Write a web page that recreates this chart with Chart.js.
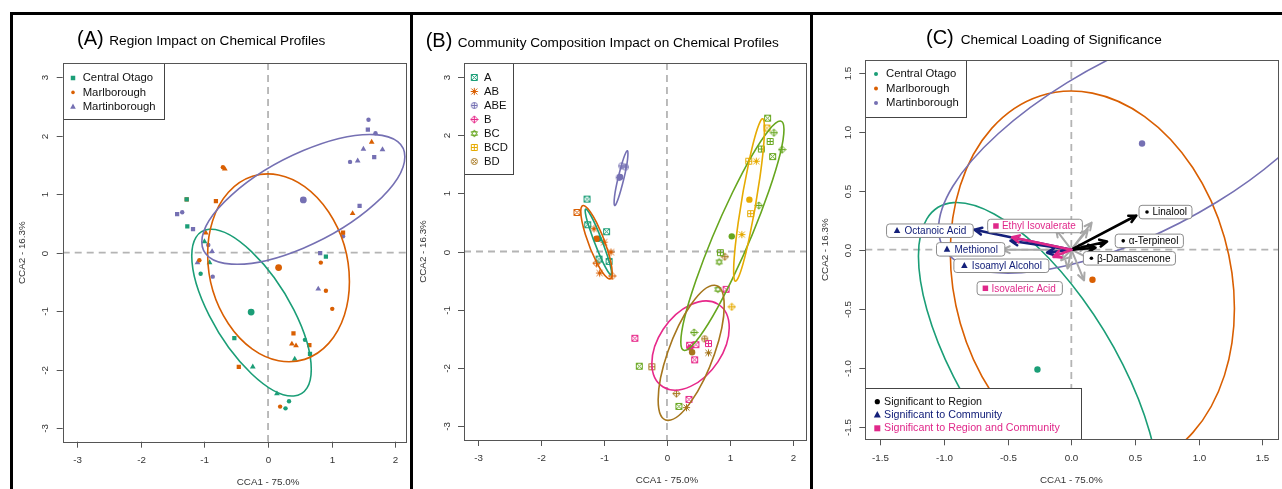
<!DOCTYPE html>
<html>
<head>
<meta charset="utf-8">
<title>CCA chemical profiles</title>
<script src="https://cdn.jsdelivr.net/npm/chart.js@4.4.1/dist/chart.umd.min.js"></script>
<style>
  body { margin: 0; background: #fff; }
  #page { position: relative; width: 1282px; height: 489px; overflow: hidden; }
  .panel { position: absolute; top: 0; height: 489px; }
  .bar { position: absolute; background: #000; }
</style>
</head>
<body>
<div id="page">
  <div class="panel" style="left:0;width:410px"><canvas id="chartA"></canvas></div>
  <div class="panel" style="left:410px;width:400px"><canvas id="chartB"></canvas></div>
  <div class="panel" style="left:810px;width:472px"><canvas id="chartC"></canvas></div>
  <div class="bar" style="left:10px;top:12px;width:1272px;height:3px"></div>
  <div class="bar" style="left:10px;top:12px;width:3px;height:477px"></div>
  <div class="bar" style="left:410px;top:12px;width:3px;height:477px"></div>
  <div class="bar" style="left:810px;top:12px;width:3px;height:477px"></div>
</div>
<script>
var FONT = '"Liberation Sans", Arial, Helvetica, sans-serif';

// ---------- region data (panels A and C) ----------
var regionNames = ['Central Otago', 'Marlborough', 'Martinborough'];
var regionColors = ['#1b9e77', '#d95f02', '#7570b3'];

var otagoX = [-1.28, -1.27, -1.00, -0.92, -1.06, 0.91, 0.58, 0.66, 0.42, -0.53, -0.24, 0.14, 0.33, 0.275];
var otagoY = [0.91, 0.45, 0.19, -0.17, -0.36, -0.07, -1.49, -1.73, -1.82, -1.46, -1.95, -2.41, -2.54, -2.66];
var otagoShape = ['rect', 'rect', 'triangle', 'triangle', 'circle', 'rect', 'circle', 'rect', 'triangle', 'rect', 'triangle', 'triangle', 'circle', 'circle'];

var marlX = [-0.71, -0.68, -1.28, -0.82, 1.33, 1.18, 1.63, -0.98, -1.08, 0.83, 0.91, 1.01, 0.40, 0.375, 0.44, 0.65, -0.46, 0.19];
var marlY = [1.46, 1.43, 0.91, 0.88, 0.67, 0.34, 1.89, 0.34, -0.13, -0.17, -0.65, -0.96, -1.38, -1.56, -1.59, -1.58, -1.95, -2.63];
var marlShape = ['circle', 'triangle', 'rect', 'rect', 'triangle', 'rect', 'triangle', 'triangle', 'circle', 'circle', 'circle', 'circle', 'rect', 'triangle', 'triangle', 'rect', 'rect', 'circle'];

var martinX = [1.58, 1.57, 1.69, 1.50, 1.80, 1.67, 1.29, 1.41, 1.44, 1.18, 0.82, 0.79, -1.43, -1.35, -1.18, -1.11, -0.88, -0.87, -0.94];
var martinY = [2.27, 2.10, 2.04, 1.77, 1.76, 1.63, 1.55, 1.57, 0.80, 0.28, -0.01, -0.62, 0.66, 0.69, 0.40, -0.17, 0.02, -0.41, 0.13];
var martinShape = ['circle', 'rect', 'circle', 'triangle', 'triangle', 'rect', 'circle', 'triangle', 'rect', 'circle', 'rect', 'triangle', 'rect', 'circle', 'rect', 'triangle', 'triangle', 'circle', 'circle'];

var centroidX = [-0.266, 0.166, 0.555];
var centroidY = [-1.015, -0.255, 0.90];

// ellipses: centre, half width, half height, correlation
var regEllCx = [-0.26, 0.165, 0.555];
var regEllCy = [-1.025, -0.26, 0.91];
var regEllSx = [0.94, 1.115, 1.597];
var regEllSy = [1.425, 1.605, 1.108];
var regEllRho = [-0.681, -0.148, 0.659];

// ---------- community data (panel B) ----------
var commNames = ['A', 'AB', 'ABE', 'B', 'BC', 'BCD', 'BD'];
var commColors = ['#1b9e77', '#d95f02', '#7570b3', '#e7298a', '#66a61e', '#e6ab02', '#a6761d'];
var commLegendShape = ['sqx', 'ast', 'cplus', 'dplus', 'star6', 'sqplus', 'cx'];

var commX = [
  [-1.27, -1.26, -0.96, -1.08, -0.92],
  [-1.43, -1.16, -1.00, -0.89, -1.12, -1.07, -0.87],
  [-0.72, -0.76, -0.66],
  [-0.51, 0.94, 0.36, 0.46, 0.66, 0.44, 0.35],
  [1.60, 1.70, 1.64, 1.50, 1.83, 1.68, 1.46, 0.85, 0.83, 0.81, -0.44, 0.43, 0.19],
  [1.59, 1.30, 1.42, 1.33, 1.19, 1.03],
  [0.92, -0.24, 0.60, 0.66, 0.15, 0.31]
];
var commY = [
  [0.90, 0.46, 0.34, -0.13, -0.17],
  [0.67, 0.39, 0.16, -0.01, -0.20, -0.37, -0.42],
  [1.47, 1.27, 1.45],
  [-1.49, -0.65, -1.61, -1.60, -1.58, -1.86, -2.54],
  [2.29, 2.04, 1.89, 1.76, 1.75, 1.63, 0.79, -0.02, -0.18, -0.65, -1.97, -1.39, -2.66],
  [2.12, 1.55, 1.55, 0.65, 0.29, -0.95],
  [-0.09, -1.98, -1.50, -1.74, -2.44, -2.68]
];
var commShape = [
  ['sqx', 'sqx', 'sqx', 'sqx', 'sqx'],
  ['sqx', 'ast', 'ast', 'ast', 'dplus', 'ast', 'dplus'],
  ['cplus', 'cplus', 'cplus'],
  ['sqx', 'sqx', 'sqx', 'sqx', 'sqplus', 'sqx', 'sqx'],
  ['sqx', 'dplus', 'sqplus', 'sqplus', 'dplus', 'sqx', 'dplus', 'sqplus', 'star6', 'star6', 'sqx', 'dplus', 'sqx'],
  ['sqx', 'sqplus', 'ast', 'sqplus', 'ast', 'dplus'],
  ['dplus', 'sqplus', 'cplus', 'ast', 'dplus', 'ast']
];
var commCx = [-1.09, -1.12, -0.745, 0.37, 1.03, 1.31, 0.40];
var commCy = [0.22, 0.22, 1.28, -1.65, 0.26, 0.89, -1.73];

var commEllCx = [-1.09, -1.12, -0.73, 0.375, 1.04, 1.305, 0.385];
var commEllCy = [0.165, 0.16, 1.26, -1.615, 0.27, 0.885, -1.74];
var commEllSx = [0.21, 0.25, 0.11, 0.615, 0.82, 0.245, 0.525];
var commEllSy = [0.565, 0.63, 0.47, 0.765, 1.97, 1.395, 1.16];
var commEllRho = [-0.95, -0.84, 0.91, 0.40, 0.927, 0.878, 0.695];

// ---------- loadings (panel C) ----------
var chemNames = ['Linalool', '\u03b1-Terpineol', '\u03b2-Damascenone', 'Octanoic Acid', 'Methionol', 'Isoamyl Alcohol', 'Ethyl Isovalerate', 'Isovaleric Acid'];
var chemX = [0.51, 0.28, 0.19, -0.76, -0.477, -0.19, -0.465, -0.14];
var chemY = [0.29, 0.07, 0.017, 0.17, 0.076, -0.025, 0.105, -0.06];
var chemGroup = ['region', 'region', 'region', 'community', 'community', 'community', 'both', 'both'];
var otherX = [0.16, 0.13, -0.54, -0.03, 0.10, 0.19, -0.12, 0.12, -0.08];
var otherY = [0.23, 0.17, 0.0, -0.16, -0.26, -0.10, 0.17, 0.03, -0.09];

var groupColors = { region: '#000000', community: '#14207a', both: '#e0288a' };
var sigLegend = ['Significant to Region', 'Significant to Community', 'Significant to Region and Community'];
var sigGroups = ['region', 'community', 'both'];

var ticksAB = [-3, -2, -1, 0, 1, 2];
var yTicksAB = [-3, -2, -1, 0, 1, 2, 3];
var ticksC = [-1.5, -1, -0.5, 0, 0.5, 1, 1.5];

// ---------- helpers ----------
function symbol(shape, color) {
  var c = document.createElement('canvas');
  c.width = 9; c.height = 9;
  var g = c.getContext('2d');
  var m = 4.5, r = 3;
  g.strokeStyle = color;
  g.lineWidth = 1;
  g.beginPath();
  if (shape === 'sqx' || shape === 'sqplus') {
    g.rect(m - r, m - r, 2 * r, 2 * r);
  }
  if (shape === 'sqx' || shape === 'cx' || shape === 'ast') {
    var d = shape === 'cx' ? 2.1 : r;
    g.moveTo(m - d, m - d); g.lineTo(m + d, m + d);
    g.moveTo(m + d, m - d); g.lineTo(m - d, m + d);
  }
  if (shape === 'sqplus' || shape === 'cplus' || shape === 'dplus' || shape === 'ast') {
    var p = shape === 'ast' ? 3.6 : (shape === 'dplus' ? 3.6 : r);
    g.moveTo(m - p, m); g.lineTo(m + p, m);
    g.moveTo(m, m - p); g.lineTo(m, m + p);
  }
  if (shape === 'cplus' || shape === 'cx') {
    g.moveTo(m + r, m);
    g.arc(m, m, r, 0, Math.PI * 2);
  }
  if (shape === 'dplus') {
    g.moveTo(m, m - 3.6); g.lineTo(m + 3.6, m); g.lineTo(m, m + 3.6); g.lineTo(m - 3.6, m); g.closePath();
  }
  if (shape === 'star6') {
    g.moveTo(m, m - 3.6); g.lineTo(m + 3.1, m + 1.8); g.lineTo(m - 3.1, m + 1.8); g.closePath();
    g.moveTo(m, m + 3.6); g.lineTo(m + 3.1, m - 1.8); g.lineTo(m - 3.1, m - 1.8); g.closePath();
  }
  g.stroke();
  return c;
}

function drawEllipse(chart, cx, cy, sx, sy, rho, color) {
  var ctx = chart.ctx, xs = chart.scales.x, ys = chart.scales.y;
  var kx = xs.getPixelForValue(1) - xs.getPixelForValue(0);
  var ky = ys.getPixelForValue(1) - ys.getPixelForValue(0);
  ctx.save();
  ctx.translate(xs.getPixelForValue(cx), ys.getPixelForValue(cy));
  ctx.transform(kx * sx, ky * rho * sy, 0, ky * sy * Math.sqrt(1 - rho * rho), 0, 0);
  ctx.beginPath();
  ctx.arc(0, 0, 1, 0, Math.PI * 2);
  ctx.restore();
  ctx.strokeStyle = color;
  ctx.lineWidth = 1.6;
  ctx.stroke();
}

function clipArea(chart) {
  var a = chart.chartArea, ctx = chart.ctx;
  ctx.beginPath();
  ctx.rect(a.left, a.top, a.right - a.left, a.bottom - a.top);
  ctx.clip();
}

function arrow(ctx, x0, y0, x1, y1, color, lw) {
  var ang = Math.atan2(y1 - y0, x1 - x0), h = 8;
  ctx.strokeStyle = color;
  ctx.lineWidth = lw;
  ctx.lineCap = 'round';
  ctx.lineJoin = 'round';
  ctx.beginPath();
  ctx.moveTo(x0, y0); ctx.lineTo(x1, y1);
  ctx.moveTo(x1 - h * Math.cos(ang - 0.45), y1 - h * Math.sin(ang - 0.45));
  ctx.lineTo(x1, y1);
  ctx.lineTo(x1 - h * Math.cos(ang + 0.45), y1 - h * Math.sin(ang + 0.45));
  ctx.stroke();
}

function marker(ctx, kind, x, y, color, size) {
  ctx.fillStyle = color;
  ctx.beginPath();
  if (kind === 'rect' || kind === 'both') {
    ctx.rect(x - size / 2, y - size / 2, size, size);
  } else if (kind === 'triangle' || kind === 'community') {
    ctx.moveTo(x, y - size * 0.58);
    ctx.lineTo(x + size / 2, y + size * 0.36);
    ctx.lineTo(x - size / 2, y + size * 0.36);
    ctx.closePath();
  } else {
    ctx.arc(x, y, size / 2, 0, Math.PI * 2);
  }
  ctx.fill();
}

function legendBox(ctx, x0, y0, x1, y1) {
  ctx.fillStyle = '#fff';
  ctx.fillRect(x0, y0, x1 - x0, y1 - y0);
  ctx.strokeStyle = '#444';
  ctx.lineWidth = 1;
  ctx.strokeRect(Math.round(x0) + 0.5, Math.round(y0) + 0.5, Math.round(x1 - x0), Math.round(y1 - y0));
}

function drawFrame(chart, spec) {
  var ctx = chart.ctx, a = chart.chartArea, xs = chart.scales.x, ys = chart.scales.y;
  ctx.save();
  ctx.strokeStyle = '#555';
  ctx.lineWidth = 1;
  ctx.strokeRect(Math.round(a.left) + 0.5, Math.round(a.top) + 0.5, Math.round(a.right - a.left), Math.round(a.bottom - a.top));
  ctx.fillStyle = '#333';
  ctx.font = '9.8px ' + FONT;
  ctx.textAlign = 'center';
  ctx.textBaseline = 'middle';
  spec.xTicks.forEach(function (v) {
    var x = Math.round(xs.getPixelForValue(v)) + 0.5;
    ctx.beginPath(); ctx.moveTo(x, a.bottom); ctx.lineTo(x, a.bottom + 6); ctx.stroke();
    ctx.fillText(spec.fmt(v), x, a.bottom + 18.5);
  });
  spec.yTicks.forEach(function (v) {
    var y = Math.round(ys.getPixelForValue(v)) + 0.5;
    ctx.beginPath(); ctx.moveTo(a.left, y); ctx.lineTo(a.left - 6, y); ctx.stroke();
    ctx.save();
    ctx.translate(a.left - 17, y);
    ctx.rotate(-Math.PI / 2);
    ctx.fillText(spec.fmt(v), 0, 0);
    ctx.restore();
  });
  var x0 = xs.getPixelForValue(0), y0 = ys.getPixelForValue(0);
  ctx.fillText('CCA1 - 75.0%', x0, a.bottom + 40.5);
  ctx.save();
  ctx.translate(a.left - 40.5, y0);
  ctx.rotate(-Math.PI / 2);
  ctx.fillText('CCA2 - 16.3%', 0, 0);
  ctx.restore();
  // title
  ctx.fillStyle = '#000';
  ctx.textAlign = 'left';
  ctx.textBaseline = 'alphabetic';
  ctx.font = '20px ' + FONT;
  ctx.fillText(spec.tag, spec.tagX, spec.titleY);
  ctx.font = '13.6px ' + FONT;
  ctx.fillText(spec.title, spec.titleX, spec.titleY);
  ctx.restore();
}

function panelPlugin(spec) {
  return {
    id: 'panel' + spec.tag.replace(/\W/g, ''),
    beforeDatasetsDraw: function (chart) {
      var ctx = chart.ctx, a = chart.chartArea;
      var x0 = chart.scales.x.getPixelForValue(0), y0 = chart.scales.y.getPixelForValue(0);
      ctx.save();
      clipArea(chart);
      ctx.strokeStyle = '#b4b4b4';
      ctx.lineWidth = 1.8;
      ctx.setLineDash([7, 5]);
      ctx.beginPath();
      ctx.moveTo(a.left, y0); ctx.lineTo(a.right, y0);
      ctx.moveTo(x0, a.top); ctx.lineTo(x0, a.bottom);
      ctx.stroke();
      ctx.restore();
    },
    afterDatasetsDraw: function (chart) {
      var ctx = chart.ctx;
      ctx.save();
      clipArea(chart);
      spec.ellipses(chart);
      ctx.restore();
      ctx.save();
      spec.extra(chart);
      ctx.restore();
      drawFrame(chart, spec);
    }
  };
}

function makeChart(id, datasets, spec) {
  return new Chart(document.getElementById(id), {
    type: 'scatter',
    data: { datasets: datasets },
    options: {
      responsive: true,
      maintainAspectRatio: false,
      animation: false,
      events: [],
      layout: { padding: spec.pad },
      plugins: { legend: { display: false }, tooltip: { enabled: false } },
      scales: {
        x: { type: 'linear', display: false, min: spec.xmin, max: spec.xmax },
        y: { type: 'linear', display: false, min: spec.ymin, max: spec.ymax }
      }
    },
    plugins: [panelPlugin(spec)]
  });
}

function pts(xs, ys) {
  return xs.map(function (v, i) { return { x: v, y: ys[i] }; });
}

function regionSet(xs, ys, shapes, color) {
  return {
    data: pts(xs, ys),
    pointStyle: shapes,
    pointRadius: shapes.map(function (s) { return s === 'rect' ? 3 : (s === 'triangle' ? 3.3 : 2.2); }),
    backgroundColor: color,
    borderColor: color,
    borderWidth: 0
  };
}

function drawRegionEllipses(chart) {
  regEllCx.forEach(function (cx, i) {
    drawEllipse(chart, cx, regEllCy[i], regEllSx[i], regEllSy[i], regEllRho[i], regionColors[i]);
  });
}

// ---------- panel A ----------
makeChart('chartA', [
  { data: pts(centroidX, centroidY), pointStyle: 'circle', pointRadius: 3.4, backgroundColor: regionColors, borderWidth: 0 },
  regionSet(otagoX, otagoY, otagoShape, regionColors[0]),
  regionSet(marlX, marlY, marlShape, regionColors[1]),
  regionSet(martinX, martinY, martinShape, regionColors[2])
], {
  tag: '(A)', tagX: 77, titleX: 109.3, titleY: 44.5,
  title: 'Region Impact on Chemical Profiles',
  pad: { left: 62.7, right: 3, top: 63, bottom: 47.3 },
  xmin: -3.23, xmax: 2.17, ymin: -3.23, ymax: 3.24,
  xTicks: ticksAB, yTicks: yTicksAB, fmt: function (v) { return String(v); },
  ellipses: drawRegionEllipses,
  extra: function (chart) {
    var ctx = chart.ctx;
    legendBox(ctx, 62.7, 63, 163.3, 119.3);
    var shapes = ['rect', 'circle', 'triangle'];
    var sizes = [4.5, 3.6, 5.6];
    ctx.font = '11.3px ' + FONT;
    ctx.textBaseline = 'middle';
    regionNames.forEach(function (name, i) {
      var y = 78 + i * 14.4;
      marker(ctx, shapes[i], 73, y, regionColors[i], sizes[i]);
      ctx.fillStyle = '#111';
      ctx.fillText(name, 82.7, y);
    });
  }
});

// ---------- panel B ----------
var bSets = [{
  data: pts(commCx, commCy), pointStyle: 'circle', pointRadius: 3.2,
  backgroundColor: commColors, borderWidth: 0
}];
commNames.forEach(function (name, i) {
  bSets.push({
    data: pts(commX[i], commY[i]),
    pointStyle: commShape[i].map(function (s) { return symbol(s, commColors[i]); }),
    pointRadius: 4,
    borderWidth: 0
  });
});

makeChart('chartB', bSets, {
  tag: '(B)', tagX: 15.7, titleX: 47.7, titleY: 46.5,
  title: 'Community Composition Impact on Chemical Profiles',
  pad: { left: 54, right: 0.5, top: 63, bottom: 49 },
  xmin: -3.226, xmax: 2.21, ymin: -3.237, ymax: 3.237,
  xTicks: ticksAB, yTicks: yTicksAB, fmt: function (v) { return String(v); },
  ellipses: function (chart) {
    commEllCx.forEach(function (cx, i) {
      drawEllipse(chart, cx, commEllCy[i], commEllSx[i], commEllSy[i], commEllRho[i], commColors[i]);
    });
  },
  extra: function (chart) {
    var ctx = chart.ctx;
    legendBox(ctx, 54, 63, 103.3, 174);
    ctx.font = '11.3px ' + FONT;
    ctx.textBaseline = 'middle';
    commNames.forEach(function (name, i) {
      var y = 77.5 + i * 14;
      ctx.drawImage(symbol(commLegendShape[i], commColors[i]), 64.3 - 4.5, y - 4.5);
      ctx.fillStyle = '#111';
      ctx.fillText(name, 74, y);
    });
  }
});

// ---------- panel C ----------
var labelX = [0.739, 0.612, 0.456, -1.11, -0.79, -0.549, -0.285, -0.405];
var labelY = [0.319, 0.075, -0.073, 0.161, 0.003, -0.136, 0.201, -0.327];
var labelLayout = {
  region: { mk: 8, tx: 13.5, pad: 5 },
  community: { mk: 10.5, tx: 18, pad: 7 },
  both: { mk: 8.3, tx: 14.3, pad: 6.5 }
};

makeChart('chartC', [
  { data: pts(centroidX, centroidY), pointStyle: 'circle', pointRadius: 3.2, backgroundColor: regionColors, borderWidth: 0 }
], {
  tag: '(C)', tagX: 116, titleX: 150.7, titleY: 43.5,
  title: 'Chemical Loading of Significance',
  pad: { left: 55.3, right: 1.3, top: 60, bottom: 49.7 },
  xmin: -1.617, xmax: 1.622, ymin: -1.607, ymax: 1.608,
  xTicks: ticksC, yTicks: ticksC, fmt: function (v) { return v.toFixed(1); },
  ellipses: drawRegionEllipses,
  extra: function (chart) {
    var ctx = chart.ctx, xs = chart.scales.x, ys = chart.scales.y;
    var ox = xs.getPixelForValue(0), oy = ys.getPixelForValue(0);
    ctx.save();
    clipArea(chart);
    otherX.forEach(function (v, i) {
      arrow(ctx, ox, oy, xs.getPixelForValue(v), ys.getPixelForValue(otherY[i]), '#a8a8a8', 2);
    });
    chemX.forEach(function (v, i) {
      arrow(ctx, ox, oy, xs.getPixelForValue(v), ys.getPixelForValue(chemY[i]), groupColors[chemGroup[i]], 2.6);
    });
    ctx.restore();

    // chemical labels
    ctx.font = '10px ' + FONT;
    ctx.textBaseline = 'middle';
    ctx.textAlign = 'left';
    chemNames.forEach(function (name, i) {
      var lay = labelLayout[chemGroup[i]];
      var tw = ctx.measureText(name).width;
      var w = lay.tx + tw + lay.pad, h = 13.5;
      var cx = xs.getPixelForValue(labelX[i]), cy = ys.getPixelForValue(labelY[i]);
      var x0 = cx - w / 2, y0 = cy - h / 2;
      ctx.beginPath();
      ctx.roundRect(x0, y0, w, h, 3);
      ctx.fillStyle = '#fff';
      ctx.fill();
      ctx.strokeStyle = '#8c8c8c';
      ctx.lineWidth = 1;
      ctx.stroke();
      var col = groupColors[chemGroup[i]];
      var sz = chemGroup[i] === 'region' ? 3.6 : (chemGroup[i] === 'community' ? 6.5 : 5.5);
      marker(ctx, chemGroup[i], x0 + lay.mk, cy, col, sz);
      ctx.fillStyle = col;
      ctx.fillText(name, x0 + lay.tx, cy + 0.5);
    });

    // region legend
    legendBox(ctx, 55.3, 60, 156.7, 116.7);
    ctx.font = '11.3px ' + FONT;
    regionNames.forEach(function (name, i) {
      var y = 74 + i * 14.5;
      marker(ctx, 'circle', 66, y, regionColors[i], 4);
      ctx.fillStyle = '#111';
      ctx.fillText(name, 76, y);
    });

    // significance legend
    legendBox(ctx, 55.3, 388.3, 271.7, 439.3);
    ctx.font = '10.7px ' + FONT;
    sigLegend.forEach(function (name, i) {
      var y = 401.7 + i * 13.3;
      var g = sigGroups[i];
      marker(ctx, g, 67.3, y, groupColors[g], g === 'region' ? 5.2 : (g === 'community' ? 7 : 6));
      ctx.fillStyle = groupColors[g] === '#000000' ? '#111' : groupColors[g];
      ctx.fillText(name, 74, y);
    });
  }
});
</script>
</body>
</html>
